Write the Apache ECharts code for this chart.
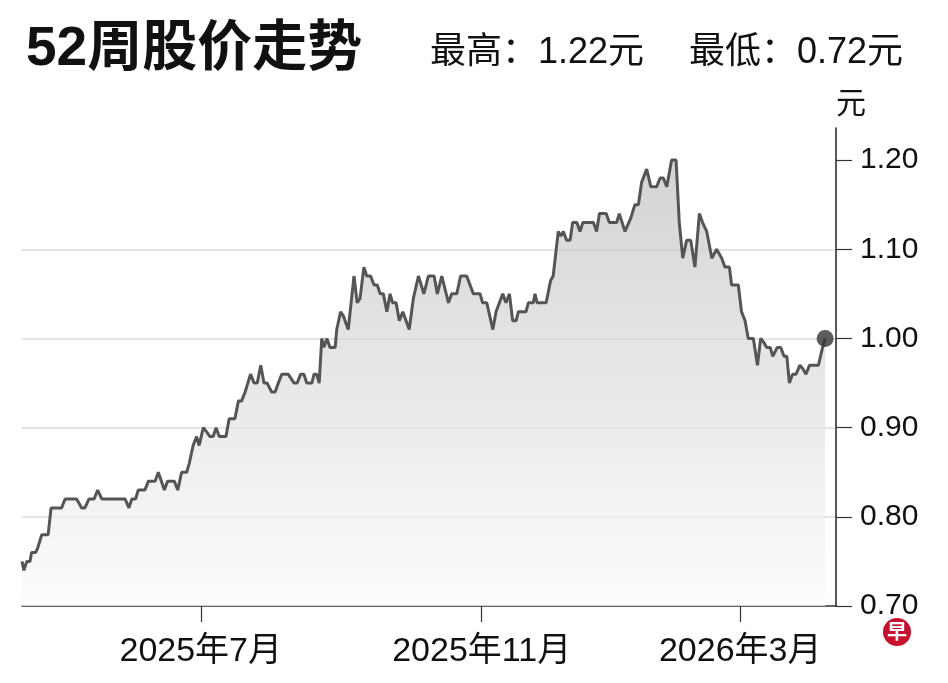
<!DOCTYPE html>
<html>
<head>
<meta charset="utf-8">
<script src="https://cdn.jsdelivr.net/npm/echarts@6/dist/echarts.min.js"></script>
<style>
html,body{margin:0;padding:0;background:#fff;}
#chart{width:948px;height:683px;}
</style>
</head>
<body>
<div id="chart"></div>
<script>
// ---- data (trading-day index from start of 52-week window, closing price in 元) ----
const dayIndex = [0,0.6,1.5,2.5,3.0,4.3,4.9,6.2,8.2,9.1,12.4,13.5,17.1,18.7,19.7,21.0,22.6,23.7,25.0,32.3,33.5,34.4,35.6,36.4,38.5,39.6,41.7,42.7,44.6,45.6,47.7,48.8,50.0,51.6,52.4,53.6,54.7,55.5,56.8,57.9,58.9,59.9,60.8,61.8,63.9,64.9,66.7,67.8,68.8,69.9,71.6,72.7,73.7,74.8,75.8,76.8,78.2,79.3,80.3,81.4,83.4,85.2,86.2,87.3,88.3,89.2,90.8,91.5,92.3,93.1,93.9,94.6,95.5,96.5,98.1,98.6,99.8,100.7,102.2,104.0,105.0,105.9,107.1,108.0,109.2,110.3,111.3,112.2,113.2,114.3,115.3,116.1,117.2,118.2,119.3,121.3,122.6,124.2,125.9,127.3,129.1,130.1,131.5,133.6,134.6,136.2,137.4,139.3,141.4,143.5,144.3,145.6,147.5,148.5,150.6,151.6,152.7,153.7,154.8,155.5,157.9,158.6,160.2,160.7,161.4,164.2,165.6,166.4,168.0,168.8,169.6,170.6,171.7,172.5,173.8,174.8,175.7,179.0,180.0,180.9,183.0,184.0,186.3,187.1,188.9,190.7,192.0,193.1,194.1,195.7,197.0,198.8,199.9,200.9,202.0,203.5,204.9,205.9,207.0,208.2,209.5,210.8,212.2,213.2,214.5,216.1,217.6,219.2,220.2,221.6,222.3,224.4,225.4,226.5,227.5,229.1,230.4,231.4,232.5,233.3,234.4,235.2,236.6,237.7,238.7,239.6,240.4,241.4,242.5,243.7,244.8,245.6,246.7,249.5,250.8,251.6];
const price = [0.75,0.74,0.75,0.75,0.76,0.76,0.765,0.78,0.78,0.81,0.81,0.82,0.82,0.81,0.81,0.82,0.82,0.83,0.82,0.82,0.81,0.82,0.82,0.83,0.83,0.84,0.84,0.85,0.83,0.84,0.84,0.83,0.85,0.85,0.86,0.88,0.89,0.88,0.90,0.895,0.89,0.89,0.90,0.89,0.89,0.91,0.91,0.93,0.93,0.94,0.96,0.95,0.95,0.97,0.95,0.95,0.94,0.94,0.95,0.96,0.96,0.95,0.95,0.96,0.96,0.95,0.95,0.96,0.96,0.95,1.00,0.99,1.00,0.99,0.99,1.01,1.03,1.025,1.01,1.07,1.04,1.045,1.08,1.07,1.07,1.06,1.06,1.05,1.05,1.03,1.05,1.04,1.04,1.02,1.03,1.01,1.045,1.07,1.05,1.07,1.07,1.05,1.07,1.04,1.05,1.05,1.07,1.07,1.05,1.05,1.04,1.04,1.01,1.03,1.05,1.04,1.05,1.02,1.02,1.03,1.03,1.04,1.04,1.05,1.04,1.04,1.065,1.07,1.12,1.115,1.12,1.11,1.11,1.13,1.13,1.12,1.13,1.13,1.12,1.14,1.14,1.13,1.13,1.14,1.12,1.135,1.15,1.15,1.175,1.19,1.17,1.17,1.18,1.18,1.17,1.20,1.20,1.13,1.09,1.11,1.11,1.08,1.14,1.13,1.12,1.09,1.10,1.09,1.08,1.08,1.06,1.06,1.03,1.02,1.00,1.00,0.97,1.00,0.995,0.99,0.99,0.98,0.99,0.99,0.98,0.98,0.95,0.96,0.96,0.97,0.965,0.96,0.97,0.97,0.99,1.00];
const xTickIndex = [56, 144, 225];
const xTickLabels = ['2025年7月', '2025年11月', '2026年3月'];
const yTickValues = [0.70, 0.80, 0.90, 1.00, 1.10, 1.20];
const titleText = '52周股价走势';
const highPrice = 1.22;
const lowPrice = 0.72;
const unitLabel = '元';

// ---- chart ----
const latin = "'Liberation Sans', 'Noto Sans CJK SC', sans-serif";
const seriesData = dayIndex.map((d, i) => [d, price[i]]);
const lastPoint = seriesData[seriesData.length - 1];

const chart = echarts.init(document.getElementById('chart'), null, {renderer: 'canvas'});
chart.setOption({
  backgroundColor: '#ffffff',
  animation: false,
  title: [
    {text: titleText, left: 21, top: 17,
     textStyle: {fontSize: 55, fontWeight: 'bold', color: '#111', fontFamily: latin}},
    {text: '最高：' + highPrice.toFixed(2) + unitLabel, left: 425, top: 30,
     textStyle: {fontSize: 36, fontWeight: 'normal', color: '#111', fontFamily: latin}},
    {text: '最低：' + lowPrice.toFixed(2) + unitLabel, left: 684, top: 30,
     textStyle: {fontSize: 36, fontWeight: 'normal', color: '#111', fontFamily: latin}}
  ],
  grid: {left: 22, right: 112, top: 128, bottom: 77, containLabel: false, outerBoundsMode: 'none'},
  xAxis: {
    type: 'value', min: 0, max: 255,
    axisLine: {show: true, onZero: false, lineStyle: {color: '#333', width: 1.5}},
    axisTick: {show: true, customValues: xTickIndex, length: 16, lineStyle: {color: '#333', width: 1.2}},
    axisLabel: {show: true, customValues: xTickIndex, margin: 29, fontSize: 34, color: '#111', fontFamily: latin,
      formatter: v => { const k = xTickIndex.indexOf(Math.round(v)); return k >= 0 ? xTickLabels[k] : ''; }},
    splitLine: {show: false}
  },
  yAxis: {
    type: 'value', position: 'right', min: 0.7, max: 1.236, interval: 0.1,
    name: unitLabel, nameLocation: 'end', nameGap: 8,
    nameTextStyle: {fontSize: 30, color: '#111', fontFamily: latin, align: 'left', padding: [0, 0, 0, 0]},
    axisLine: {show: true, onZero: false, lineStyle: {color: '#222', width: 1.5}},
    axisTick: {show: true, customValues: yTickValues, length: 16, lineStyle: {color: '#333', width: 1.2}},
    axisLabel: {show: true, customValues: yTickValues, margin: 24, fontSize: 30, color: '#111', fontFamily: latin,
      formatter: v => v.toFixed(2)},
    splitLine: {show: true, showMinLine: false, showMaxLine: false, lineStyle: {color: '#e4e4e4', width: 2}}
  },
  series: [
    {
      type: 'line', data: seriesData, symbol: 'none', smooth: false,
      lineStyle: {color: '#555555', width: 3},
      areaStyle: {
        color: new echarts.graphic.LinearGradient(0, 0, 0, 1, [
          {offset: 0, color: '#c1c1c1'},
          {offset: 0.45, color: '#dbdbdb'},
          {offset: 1, color: '#fbfbfb'}
        ])
      },
      z: 2
    },
    {
      type: 'scatter', data: [lastPoint], symbol: 'circle', symbolSize: 17,
      itemStyle: {color: '#333'}, z: 5
    }
  ],
  graphic: [
    {type: 'circle', left: 883, top: 618, shape: {r: 14}, style: {fill: '#c4122f'}, z: 10},
    {type: 'text', left: 887, top: 621, style: {text: '早', fill: '#fff', fontSize: 20, fontWeight: 'bold',
      fontFamily: "'Noto Sans CJK SC', sans-serif"}, z: 11}
  ]
});
</script>
</body>
</html>
